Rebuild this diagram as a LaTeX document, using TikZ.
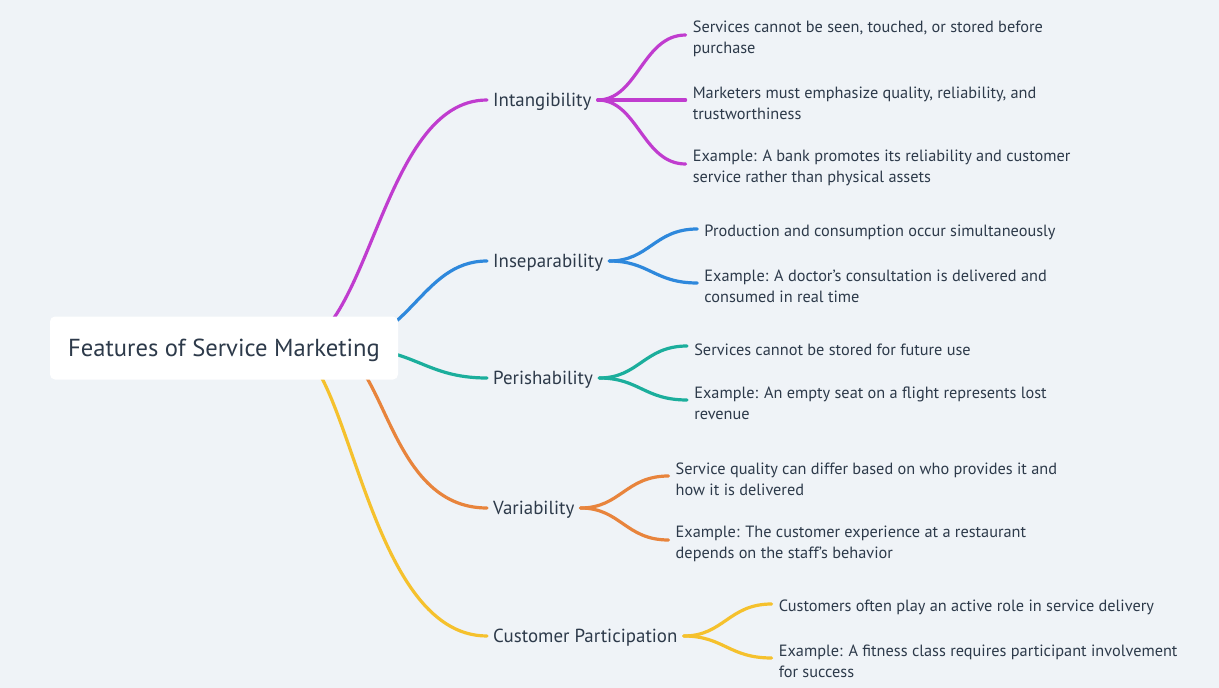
\documentclass[tikz,border=0pt]{standalone}
\usepackage{fontspec}
\setmainfont{PT Sans}
\usetikzlibrary{positioning}
\pgfdeclarelayer{back}
\pgfsetlayers{back,main}
\definecolor{bgc}{HTML}{EFF3F7}
\definecolor{ink}{HTML}{2D3A4A}
\definecolor{cint}{HTML}{C03CCF}
\definecolor{cins}{HTML}{2E88DC}
\definecolor{cper}{HTML}{1BAE9C}
\definecolor{cvar}{HTML}{E8843C}
\definecolor{ccp}{HTML}{F5C12D}

\begin{document}
\begin{tikzpicture}[x=1pt, y=-1pt,
    topic/.style={text=ink, font=\fontsize{18.9}{22}\selectfont, anchor=west, inner xsep=6pt, text depth=0pt},
    sub/.style={text=ink, font=\fontsize{16.3}{21}\selectfont, align=left, inner xsep=7pt, yshift=-3.5pt},
    link/.style={line width=3.2pt, line cap=round}]
    \useasboundingbox (0,0) rectangle (1219,688);
    \node[fill=white, rounded corners=5pt, minimum width=348pt, minimum height=63pt, text=ink, text depth=0pt, font=\fontsize{24.6}{28}\selectfont] (root) at (224,348) {Features of Service Marketing};
    \coordinate (hubl) at (290,348);
    \coordinate (hubr) at (330,348);
    \coordinate (hubp) at (350,348);

    % main topics
    \node[topic] (int) at (487,100) {Intangibility};
    \node[topic] (ins) at (487,261) {Inseparability};
    \node[topic] (per) at (487,378) {Perishability};
    \node[topic] (var) at (487,508) {Variability};
    \node[topic] (cp) at (487,636) {Customer Participation};

    % details
    \node[sub, right=88pt of int, yshift=65pt] (int1) {Services cannot be seen, touched, or stored before\\purchase};
    \node[sub, right=88pt of int] (int2) {Marketers must emphasize quality, reliability, and\\trustworthiness};
    \node[sub, right=88pt of int, yshift=-64pt] (int3) {Example: A bank promotes its reliability and customer\\service rather than physical assets};
    \node[sub, right=88pt of ins, yshift=32pt] (ins1) {Production and consumption occur simultaneously};
    \node[sub, right=88pt of ins, yshift=-22pt] (ins2) {Example: A doctor’s consultation is delivered and\\consumed in real time};
    \node[sub, right=88pt of per, yshift=32pt] (per1) {Services cannot be stored for future use};
    \node[sub, right=88pt of per, yshift=-22pt] (per2) {Example: An empty seat on a flight represents lost\\revenue};
    \node[sub, right=88pt of var, yshift=32pt] (var1) {Service quality can differ based on who provides it and\\how it is delivered};
    \node[sub, right=88pt of var, yshift=-32pt] (var2) {Example: The customer experience at a restaurant\\depends on the staff’s behavior};
    \node[sub, right=88pt of cp, yshift=32pt] (cp1) {Customers often play an active role in service delivery};
    \node[sub, right=88pt of cp, yshift=-22pt] (cp2) {Example: A fitness class requires participant involvement\\for success};

    \begin{pgfonlayer}{back}
    \fill[bgc] (0,0) rectangle (1219,688);
    \draw[link, cint] (hubl) .. controls (370,348) and (380,100) .. (int.west);
    \draw[link, cins] (hubr) .. controls (410,348) and (420,261) .. (ins.west);
    \draw[link, cper] (hubp) .. controls (415,348) and (425,378) .. (per.west);
    \draw[link, cvar] (hubr) .. controls (386,348) and (386,508) .. (var.west);
    \draw[link, ccp] (hubl) .. controls (350,348) and (365,636) .. (cp.west);
    \end{pgfonlayer}

    % forks
    \foreach \a/\b/\c in {int/int1/cint, int/int2/cint, int/int3/cint, ins/ins1/cins, ins/ins2/cins, per/per1/cper, per/per2/cper, var/var1/cvar, var/var2/cvar, cp/cp1/ccp, cp/cp2/ccp}
        \draw[link, \c] (\a.east) .. controls +(40,0) and +(-43,0) .. ([yshift=3.5pt]\b.west);
\end{tikzpicture}
\end{document}
